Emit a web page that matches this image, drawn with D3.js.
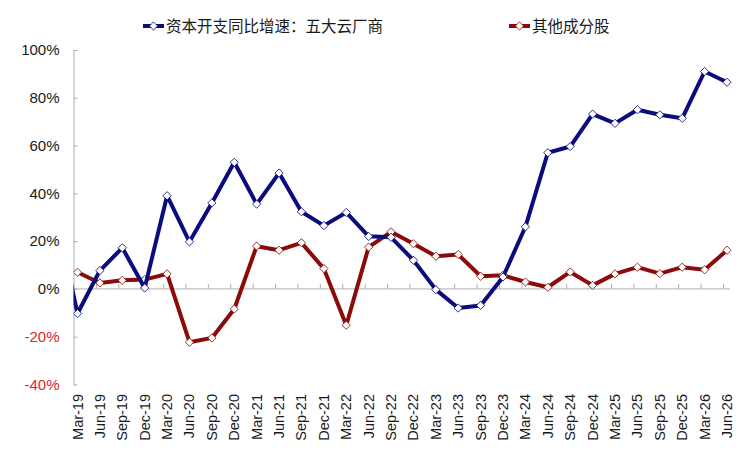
<!DOCTYPE html>
<html>
<head>
<meta charset="utf-8">
<script src="https://cdn.jsdelivr.net/npm/d3@7"></script>
<style>
  body { margin: 0; background: #fff; }
  text { font-family: "Liberation Sans", Arial, sans-serif; }
  .cjk { font-family: "Noto Sans CJK SC", "Liberation Sans", sans-serif; }
</style>
</head>
<body>
<div id="chartContainer"></div>
<script>
// quarters; Dec-18 is only there so the first blue segment runs in from the axis
var quarters = ["Dec-18",
  "Mar-19","Jun-19","Sep-19","Dec-19",
  "Mar-20","Jun-20","Sep-20","Dec-20",
  "Mar-21","Jun-21","Sep-21","Dec-21",
  "Mar-22","Jun-22","Sep-22","Dec-22",
  "Mar-23","Jun-23","Sep-23","Dec-23",
  "Mar-24","Jun-24","Sep-24","Dec-24",
  "Mar-25","Jun-25","Sep-25","Dec-25",
  "Mar-26","Jun-26"];

// 资本开支同比增速：五大云厂商 (%)
var capexGrowth = [33,
  -10.3, 7.7, 17.2, 0.4,
  39, 19.7, 36, 53,
  35.5, 48.5, 32.3, 26.5,
  32, 22, 21.6, 12,
  -0.3, -8, -6.9, 5,
  26, 57, 59.6, 73.2,
  69.3, 75, 72.9, 71.4,
  91, 86.5];

// 其他成分股 (%)
var otherGrowth = [null,
  7, 2.5, 3.6, 3.9,
  6.3, -22.3, -20.5, -8.4,
  17.9, 16.2, 19.3, 8.5,
  -15.2, 17.5, 23.9, 18.9,
  13.7, 14.4, 5.3, 5.7,
  2.9, 0.7, 7.1, 1.5,
  6.3, 9.1, 6.4, 9.1,
  8, 16.2];

var yTicks = [-40, -20, 0, 20, 40, 60, 80, 100];

var seriesNames = ["资本开支同比增速：五大云厂商", "其他成分股"];
var seriesColors = ["#0b0b80", "#8b0a0a"];

var width = 752, height = 455;
var plotLeft = 73.5, plotRight = 730, plotTop = 50, plotBottom = 384.5;

var svg = d3.select("#chartContainer")
  .append("svg")
    .attr("width", width)
    .attr("height", height);

var x = d3.scaleLinear()
  .domain([1, quarters.length - 1])
  .range([77.5, 727]);

var y = d3.scaleLinear()
  .domain([-40, 100])
  .range([plotBottom, plotTop]);

// y axis, ticks pointing inward
var yAxis = svg.append("g")
  .attr("transform", "translate(" + plotLeft + ",0)")
  .call(d3.axisLeft(y)
    .tickValues(yTicks)
    .tickSizeInner(-4)
    .tickSizeOuter(0)
    .tickPadding(14)
    .tickFormat(function(d) { return d + "%"; }));
yAxis.select(".domain").attr("stroke", "#b0b0b0");
yAxis.selectAll(".tick line").attr("stroke", "#b0b0b0");
yAxis.selectAll(".tick text")
  .attr("font-size", 15)
  .attr("font-family", "Liberation Sans, Arial, sans-serif")
  .attr("fill", function(d) { return d < 0 ? "#e0262e" : "#1a1a1a"; });

// zero line with small ticks just left of each quarter
var labelQuarters = d3.range(1, quarters.length);
var xTicks = svg.append("g")
  .attr("transform", "translate(0," + y(0) + ")")
  .call(d3.axisBottom(d3.scaleLinear().domain(x.domain()).range(x.range().map(function(v) { return v - 4; })))
    .tickValues(labelQuarters)
    .tickSizeInner(-5)
    .tickSizeOuter(0)
    .tickFormat(""));
xTicks.select(".domain").remove();
xTicks.selectAll(".tick line").attr("stroke", "#b0b0b0");
svg.append("line")
  .attr("x1", plotLeft).attr("x2", plotRight)
  .attr("y1", y(0)).attr("y2", y(0))
  .attr("stroke", "#b0b0b0");

// category labels, vertical
svg.append("g")
  .selectAll("text")
  .data(labelQuarters)
  .enter().append("text")
    .attr("transform", function(i) { return "translate(" + (x(i) + 5) + ",394) rotate(-90)"; })
    .attr("text-anchor", "end")
    .attr("font-size", 14.5)
    .attr("fill", "#1a1a1a")
    .text(function(i) { return quarters[i]; });

// clip so the Dec-18 leg stops at the axis
svg.append("clipPath").attr("id", "plotClip")
  .append("rect")
    .attr("x", plotLeft).attr("y", 0)
    .attr("width", plotRight - plotLeft + 10).attr("height", height);

var diamond = d3.symbol().type(d3.symbolSquare).size(34);

function drawSeries(values, color) {
  var pts = values.map(function(v, i) { return {i: i, v: v}; })
    .filter(function(d) { return d.v !== null; });
  var g = svg.append("g").attr("clip-path", "url(#plotClip)");
  g.append("path")
    .datum(pts)
    .attr("fill", "none")
    .attr("stroke", color)
    .attr("stroke-width", 4)
    .attr("stroke-linejoin", "round")
    .attr("d", d3.line()
      .x(function(d) { return x(d.i); })
      .y(function(d) { return y(d.v); }));
  g.selectAll("path.pt")
    .data(pts.filter(function(d) { return d.i >= 1; }))
    .enter().append("path")
      .attr("class", "pt")
      .attr("d", diamond)
      .attr("transform", function(d) { return "translate(" + x(d.i) + "," + y(d.v) + ") rotate(45)"; })
      .attr("fill", "#fff")
      .attr("stroke", color)
      .attr("stroke-width", 0.8);
}

drawSeries(otherGrowth, seriesColors[1]);
drawSeries(capexGrowth, seriesColors[0]);

// legend
var legendX = [143, 509];
seriesNames.forEach(function(name, k) {
  var lg = svg.append("g").attr("transform", "translate(" + legendX[k] + ",26)");
  lg.append("line")
    .attr("x1", 0).attr("x2", 21)
    .attr("stroke", seriesColors[k])
    .attr("stroke-width", 4);
  lg.append("path")
    .attr("d", diamond)
    .attr("transform", "translate(10.5,0) rotate(45)")
    .attr("fill", "#fff")
    .attr("stroke", seriesColors[k])
    .attr("stroke-width", 0.8);
  lg.append("text")
    .attr("class", "cjk")
    .attr("x", 23)
    .attr("y", 5.5)
    .attr("font-size", 15.5)
    .attr("fill", "#1a1a1a")
    .text(name);
});
</script>
</body>
</html>
